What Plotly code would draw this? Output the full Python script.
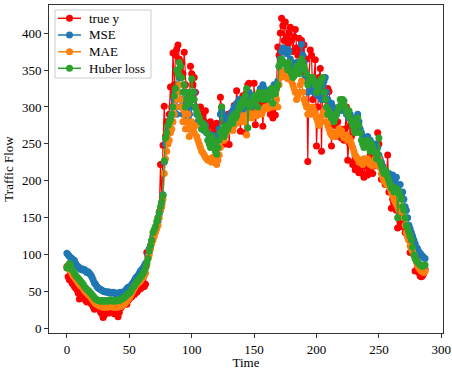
import plotly.graph_objects as go

time = list(range(288))

true_y = [
    84, 70, 66, 68, 62, 60, 57, 55, 53, 48,
    40, 45, 50, 42, 44, 38, 36, 40, 42, 35,
    33, 30, 26, 27, 30, 32, 28, 22, 20, 15,
    18, 24, 28, 22, 21, 26, 30, 24, 20, 27,
    25, 16, 22, 28, 30, 32, 35, 37, 33, 38,
    40, 44, 43, 48, 46, 50, 49, 52, 55, 54,
    56, 58, 57, 60, 103, 98, 105, 112, 118, 125,
    130, 135, 140, 150, 158, 222, 170, 248, 301, 260,
    280, 265, 290, 327, 300, 373, 330, 370, 378, 384,
    365, 340, 360, 345, 374, 330, 310, 300, 290, 355,
    345, 330, 340, 320, 300, 295, 290, 300, 285, 290,
    280, 295, 270, 265, 255, 280, 275, 262, 270, 255,
    278, 260, 270, 313, 300, 280, 265, 250, 285, 290,
    249, 291, 285, 295, 302, 290, 322, 305, 300, 267,
    310, 315, 300, 265, 320, 330, 332, 310, 300, 290,
    332, 276, 290, 300, 305, 295, 310, 274, 305, 315,
    320, 310, 300, 290, 295, 285, 300, 289, 330, 381,
    370, 400, 420, 410, 390, 415, 395, 385, 400, 408,
    390, 375, 395, 405, 380, 370, 393, 375, 390, 370,
    384, 345, 365, 226, 340, 377, 370, 310, 340, 364,
    247, 300, 340, 352, 240, 336, 320, 310, 290, 325,
    321, 305, 247, 300, 290, 275, 295, 280, 260, 270,
    258, 262, 255, 270, 300, 228, 252, 275, 260, 222,
    226, 215, 220, 218, 211, 215, 225, 210, 205, 220,
    225, 208, 215, 235, 225, 210, 220, 235, 225, 265,
    250, 225, 202, 210, 200, 195, 205, 235, 185, 200,
    163, 175, 170, 165, 160, 136, 150, 145, 138, 150,
    140, 130, 135, 125, 120, 103, 110, 112, 100, 78,
    96, 82, 76, 71, 70, 72, 75, 80,
]

mse = [
    102, 100, 98, 96, 95, 93, 92, 88, 85, 84,
    82, 80, 81, 79, 80, 78, 76, 77, 75, 73,
    70, 66, 62, 60, 57, 55, 54, 53, 52, 51,
    50, 50, 49, 50, 48, 49, 48, 49, 48, 47,
    48, 47, 48, 49, 48, 49, 50, 52, 54, 56,
    55, 57, 60, 62, 65, 68, 70, 72, 75, 78,
    80, 82, 85, 88, 90, 100, 108, 112, 118, 125,
    130, 133, 138, 145, 155, 160, 168, 181, 225, 250,
    260, 270, 275, 285, 290, 300, 310, 320, 290, 330,
    340, 300, 310, 290, 320, 285, 300, 310, 290, 270,
    300, 310, 320, 300, 290, 280, 285, 280, 270, 275,
    268, 275, 265, 255, 260, 250, 262, 255, 248, 250,
    258, 262, 270, 290, 295, 290, 285, 275, 270, 280,
    285, 290, 292, 295, 300, 300, 305, 298, 310, 305,
    300, 305, 310, 295, 300, 315, 320, 310, 312, 315,
    310, 305, 300, 315, 320, 325, 318, 330, 325, 320,
    318, 322, 315, 320, 325, 320, 330, 325, 330, 335,
    355, 365, 375, 380, 378, 375, 372, 378, 375, 365,
    360, 355, 350, 345, 360, 355, 350, 360, 385, 370,
    360, 340, 335, 320, 330, 335, 330, 325, 320, 330,
    320, 315, 325, 320, 310, 330, 335, 340, 320, 310,
    300, 295, 305, 300, 290, 295, 290, 295, 300, 295,
    300, 305, 300, 295, 290, 295, 285, 290, 285, 280,
    275, 270, 285, 290, 280, 270, 265, 260, 255, 250,
    258, 260, 250, 255, 248, 250, 245, 250, 240, 245,
    235, 230, 225, 220, 215, 210, 212, 205, 210, 205,
    200, 208, 195, 200, 205, 190, 185, 195, 180, 185,
    175, 165, 160, 150, 140, 135, 130, 125, 120, 115,
    110, 108, 104, 102, 100, 98, 96, 95,
]

mae = [
    83, 82, 80, 78, 75, 72, 70, 67, 65, 62,
    60, 58, 57, 55, 52, 50, 48, 46, 45, 43,
    40, 38, 36, 34, 33, 32, 31, 30, 30, 29,
    30, 29, 30, 29, 30, 31, 30, 29, 30, 29,
    30, 29, 30, 30, 31, 32, 33, 35, 37, 40,
    42, 45, 48, 52, 55, 58, 60, 62, 63, 65,
    68, 70, 72, 75, 85, 95, 100, 108, 115, 120,
    125, 130, 135, 140, 150, 160, 165, 175, 210, 230,
    240, 250, 255, 265, 270, 280, 290, 300, 310, 320,
    330, 310, 300, 280, 295, 270, 280, 290, 260, 275,
    280, 270, 265, 275, 260, 255, 250, 245, 240, 238,
    235, 232, 230, 228, 228, 230, 225, 232, 228, 225,
    222, 228, 235, 245, 255, 260, 255, 262, 265, 270,
    270, 272, 275, 268, 275, 280, 278, 282, 285, 280,
    280, 285, 288, 280, 262, 290, 292, 290, 285, 288,
    290, 292, 288, 290, 295, 292, 290, 295, 298, 300,
    300, 298, 302, 300, 305, 300, 305, 308, 310, 300,
    330, 340, 345, 348, 345, 342, 340, 338, 345, 340,
    335, 330, 325, 320, 310, 315, 320, 330, 335, 320,
    310, 305, 300, 290, 300, 295, 290, 300, 295, 290,
    285, 280, 275, 285, 280, 290, 295, 290, 280, 275,
    270, 265, 262, 260, 265, 260, 262, 265, 270, 265,
    268, 262, 258, 260, 262, 255, 258, 255, 250, 245,
    240, 235, 232, 230, 225, 228, 225, 222, 230, 225,
    228, 230, 225, 222, 225, 220, 225, 230, 222, 235,
    230, 218, 210, 205, 200, 198, 195, 200, 195, 190,
    185, 180, 175, 172, 168, 165, 160, 158, 165, 160,
    150, 140, 130, 125, 120, 112, 108, 105, 100, 95,
    90, 85, 82, 80, 78, 77, 76, 78,
]

huber = [
    82, 85, 88, 86, 80, 78, 75, 72, 70, 68,
    66, 64, 62, 60, 57, 55, 53, 52, 50, 48,
    46, 44, 42, 40, 39, 38, 38, 37, 38, 37,
    38, 37, 38, 37, 38, 39, 38, 37, 38, 37,
    38, 39, 38, 39, 40, 41, 42, 44, 45, 47,
    48, 50, 53, 56, 58, 60, 63, 65, 67, 70,
    72, 75, 78, 82, 88, 95, 105, 112, 120, 130,
    134, 138, 145, 150, 157, 165, 172, 180, 227, 258,
    265, 275, 280, 283, 290, 300, 315, 325, 350, 345,
    360, 355, 340, 320, 330, 300, 310, 320, 305, 315,
    338, 320, 310, 300, 295, 290, 285, 280, 270, 278,
    275, 270, 265, 255, 250, 245, 260, 255, 248, 240,
    236, 245, 255, 265, 300, 270, 260, 265, 275, 270,
    275, 280, 285, 278, 290, 285, 288, 295, 300, 305,
    300, 310, 305, 315, 325, 272, 305, 300, 308, 310,
    315, 305, 310, 300, 320, 315, 318, 310, 315, 320,
    318, 310, 315, 320, 325, 305, 320, 318, 325, 330,
    355, 360, 365, 362, 360, 358, 355, 350, 360, 350,
    345, 340, 342, 350, 355, 350, 345, 360, 365, 360,
    355, 350, 345, 330, 335, 340, 338, 340, 335, 330,
    320, 325, 330, 335, 338, 340, 320, 310, 300, 290,
    295, 290, 285, 288, 280, 285, 290, 295, 300, 310,
    305, 310, 308, 300, 295, 290, 295, 285, 280, 275,
    270, 265, 280, 285, 275, 265, 255, 250, 245, 250,
    248, 255, 245, 240, 250, 245, 240, 238, 230, 235,
    258, 225, 220, 215, 210, 215, 212, 205, 200, 195,
    190, 192, 185, 188, 190, 150, 185, 180, 175, 165,
    160, 150, 140, 135, 130, 125, 120, 110, 100, 95,
    92, 90, 88, 86, 85, 84, 85, 86,
]

series_names = ["true y", "MSE", "MAE", "Huber loss"]
series_values = [true_y, mse, mae, huber]
series_colors = ["#ff0000", "#1f77b4", "#ff7f0e", "#2ca02c"]

x_ticks = [0, 50, 100, 150, 200, 250, 300]
y_ticks = [0, 50, 100, 150, 200, 250, 300, 350, 400]

fig = go.Figure()
for name, vals, col in zip(series_names, series_values, series_colors):
    fig.add_trace(go.Scatter(
        x=time, y=vals, name=name, mode="lines+markers",
        line=dict(color=col, width=1.2),
        marker=dict(color=col, size=7),
        showlegend=False,
    ))

font_family = "Liberation Serif, Times New Roman, serif"

# --- legend drawn as a box (matplotlib-like compact layout) ---
L = 49.0
T = 5.0
W = 394.0
H = 328.0


def px(xp):
    return (xp - L) / W


def py(yp):
    return (T + H - yp) / H


shapes = [dict(type="rect", xref="paper", yref="paper",
               x0=px(55), x1=px(151), y0=py(78), y1=py(10),
               line=dict(color="#cccccc", width=1),
               fillcolor="rgba(255,255,255,0.85)", layer="above")]
annotations = []
entry_y = [18.3, 35.0, 51.7, 68.3]
for name, col, ey in zip(series_names, series_colors, entry_y):
    shapes.append(dict(type="line", xref="paper", yref="paper",
                       x0=px(58), x1=px(81), y0=py(ey), y1=py(ey),
                       line=dict(color=col, width=1.5), layer="above"))
    shapes.append(dict(type="circle", xref="paper", yref="paper",
                       xsizemode="pixel", ysizemode="pixel",
                       xanchor=px(69.5), yanchor=py(ey),
                       x0=-3.5, x1=3.5, y0=-3.5, y1=3.5,
                       fillcolor=col, line=dict(color=col, width=0),
                       layer="above"))
    annotations.append(dict(xref="paper", yref="paper", x=px(87), y=py(ey),
                            xanchor="left", yanchor="middle", text=name,
                            showarrow=False,
                            font=dict(family=font_family, size=13,
                                      color="black")))

axis_common = dict(
    showline=True, linecolor="#333333", linewidth=1, mirror=True,
    ticks="outside", ticklen=4, tickcolor="#333333", tickwidth=1,
    showgrid=False, zeroline=False, automargin=False,
    tickfont=dict(family=font_family, size=13, color="black"),
)

fig.update_layout(
    template="none",
    width=452, height=370,
    margin=dict(l=49, r=9, t=5, b=37, pad=0),
    paper_bgcolor="white", plot_bgcolor="white",
    font=dict(family=font_family, size=13, color="black"),
    showlegend=False,
    shapes=shapes,
    annotations=annotations,
    xaxis=dict(range=[-14.35, 301.35], tickvals=x_ticks,
               title=dict(text="Time", standoff=1,
                          font=dict(family=font_family, size=13)),
               **axis_common),
    yaxis=dict(range=[-6, 438], tickvals=y_ticks,
               title=dict(text="Traffic Flow", standoff=5,
                          font=dict(family=font_family, size=13)),
               **axis_common),
)

fig.write_html("out.html",
               config={"displayModeBar": False},
               post_script="document.body.style.margin='0';")
